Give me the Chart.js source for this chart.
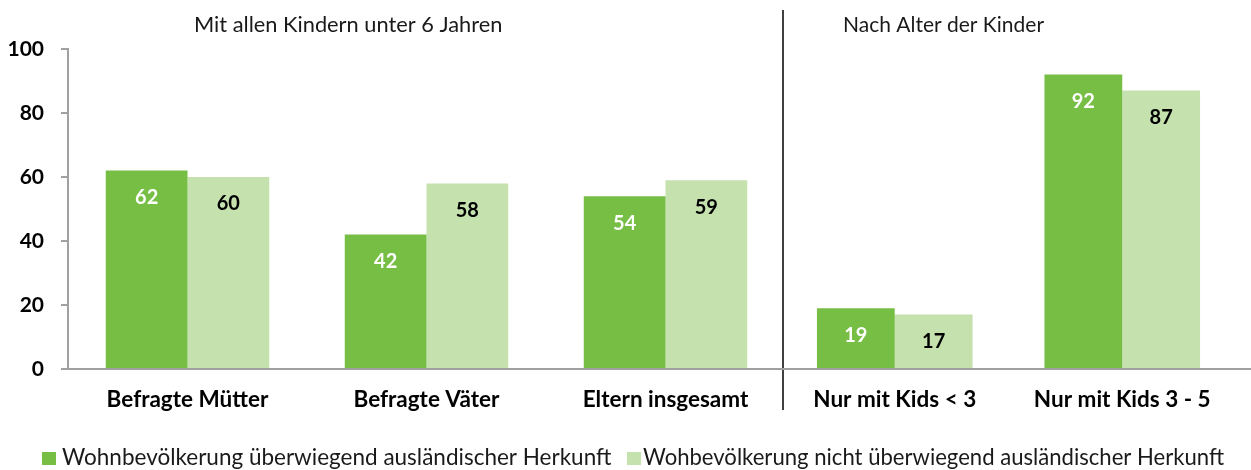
<!DOCTYPE html>
<html>
<head>
<meta charset="utf-8">
<script src="https://cdn.jsdelivr.net/npm/chart.js@4.4.1/dist/chart.umd.min.js"></script>
<style>
  html, body { margin: 0; padding: 0; background: #ffffff; overflow: hidden; }
  #wrap { position: relative; width: 1251px; height: 470px; }
  #wrap canvas { position: absolute; left: 0; top: 0; }
</style>
</head>
<body>
<div id="wrap">
  <canvas id="left" width="1251" height="470"></canvas>
  <canvas id="right" width="1251" height="470"></canvas>
</div>
<script>
// ---- data ----
const leftCategories = ["Befragte Mütter", "Befragte Väter", "Eltern insgesamt"];
const rightCategories = ["Nur mit Kids < 3", "Nur mit Kids 3 - 5"];
const seriesNames = [
  "Wohnbevölkerung überwiegend ausländischer Herkunft",
  "Wohbevölkerung nicht überwiegend ausländischer Herkunft"
];
const leftForeign = [62, 42, 54];
const leftNonForeign = [60, 58, 59];
const rightForeign = [19, 92];
const rightNonForeign = [17, 87];
const panelTitles = ["Mit allen Kindern unter 6 Jahren", "Nach Alter der Kinder"];
const yTicks = [0, 20, 40, 60, 80, 100];

// ---- styles ----
const GREEN = "#76BE44";
const LIGHT = "#C5E1AE";
const AXIS = "#A0A0A0";
const FONT = "Lato, 'Open Sans', sans-serif";

const W = 1251, H = 470;
const PLOT_TOP = 49, PLOT_BOTTOM = 369;
const LEFT_AXIS_X = 68, LEFT_RIGHT = 785;
const RIGHT_LEFT = 781, RIGHT_RIGHT = 1236;
const DIVIDER_X = 783;

Chart.defaults.font.family = FONT;
Chart.defaults.color = "#000";

const labelPlugin = {
  id: "barLabels",
  afterDatasetsDraw(chart) {
    const ctx = chart.ctx;
    ctx.save();
    ctx.font = "bold 20px " + FONT;
    ctx.textAlign = "center";
    ctx.textBaseline = "middle";
    chart.data.datasets.forEach((ds, di) => {
      const meta = chart.getDatasetMeta(di);
      meta.data.forEach((bar, i) => {
        ctx.fillStyle = di === 0 ? "#ffffff" : "#000000";
        ctx.fillText(String(Math.round(ds.data[i])), bar.x, bar.y + 27);
      });
    });
    ctx.restore();
  }
};

const leftDecor = {
  id: "leftDecor",
  afterDraw(chart) {
    const ctx = chart.ctx;
    ctx.save();
    ctx.fillStyle = "#1a1a1a";
    ctx.font = "21.8px " + FONT;
    ctx.textAlign = "left";
    ctx.textBaseline = "alphabetic";
    ctx.fillText(panelTitles[0], 194, 32);
    // legend
    const colors = [GREEN, LIGHT];
    const xs = [42, 627];
    const sizes = [22.5, 22.1];
    seriesNames.forEach((name, i) => {
      ctx.fillStyle = colors[i];
      ctx.fillRect(xs[i], 452, 14, 13);
      ctx.fillStyle = "#1a1a1a";
      ctx.font = sizes[i] + "px " + FONT;
      ctx.fillText(name, xs[i] + (i === 0 ? 20 : 16), 465);
    });
    ctx.restore();
  }
};

const rightDecor = {
  id: "rightDecor",
  afterDraw(chart) {
    const ctx = chart.ctx;
    const a = chart.chartArea;
    ctx.save();
    ctx.fillStyle = "#1a1a1a";
    ctx.font = "21px " + FONT;
    ctx.textAlign = "left";
    ctx.textBaseline = "alphabetic";
    ctx.fillText(panelTitles[1], 843, 32);
    // divider
    ctx.strokeStyle = "#000";
    ctx.lineWidth = 1.5;
    ctx.beginPath();
    ctx.moveTo(DIVIDER_X, 10);
    ctx.lineTo(DIVIDER_X, 410);
    ctx.stroke();
    // x axis line
    ctx.strokeStyle = AXIS;
    ctx.lineWidth = 2;
    ctx.beginPath();
    ctx.moveTo(a.left, a.bottom);
    ctx.lineTo(W, a.bottom);
    ctx.stroke();
    ctx.restore();
  }
};

function makeChart(id, cats, d1, d2, padL, padR, showY, plugins) {
  return new Chart(document.getElementById(id), {
    type: "bar",
    data: {
      labels: cats,
      datasets: [
        { label: seriesNames[0], data: d1, backgroundColor: GREEN, borderWidth: 0 },
        { label: seriesNames[1], data: d2, backgroundColor: LIGHT, borderWidth: 0 }
      ]
    },
    options: {
      responsive: false,
      animation: false,
      events: [],
      layout: { padding: { left: padL, right: padR, top: PLOT_TOP, bottom: 0 } },
      categoryPercentage: 0.684,
      barPercentage: 1.0,
      plugins: { legend: { display: false }, tooltip: { enabled: false }, title: { display: false } },
      scales: {
        x: {
          grid: { display: false, drawTicks: false },
          border: { display: showY, color: AXIS, width: 2 },
          ticks: { font: { size: 22.5, weight: "bold" }, color: "#000", padding: 17, maxRotation: 0, autoSkip: false },
          afterFit(s) { s.height = H - PLOT_BOTTOM; }
        },
        y: {
          display: showY ? true : false,
          min: 0, max: 100,
          afterBuildTicks(s) { s.ticks = yTicks.map(v => ({ value: v })); },
          grid: { drawOnChartArea: false, drawTicks: true, tickLength: 7, color: AXIS, lineWidth: 2 },
          border: { display: true, color: AXIS, width: 2 },
          ticks: { font: { size: 21, weight: "bold" }, color: "#000", padding: 17 },
          afterFit(s) { s.width = LEFT_AXIS_X - padL; }
        }
      }
    },
    plugins: plugins
  });
}

makeChart("left", leftCategories, leftForeign, leftNonForeign, 0, W - LEFT_RIGHT, true, [labelPlugin, leftDecor]);
makeChart("right", rightCategories, rightForeign, rightNonForeign, RIGHT_LEFT, W - RIGHT_RIGHT, false, [labelPlugin, rightDecor]);
</script>
</body>
</html>
